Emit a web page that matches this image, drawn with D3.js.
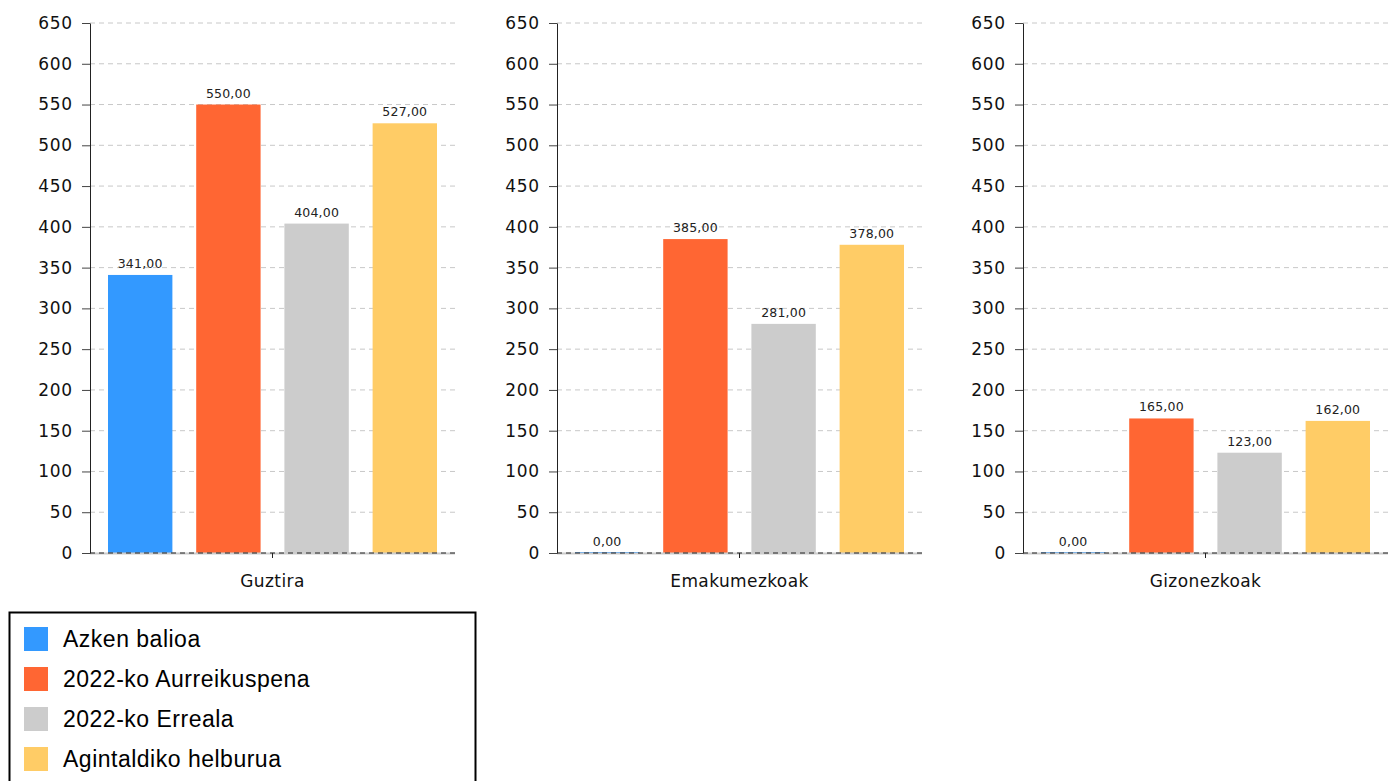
<!DOCTYPE html>
<html>
<head>
<meta charset="utf-8">
<script src="https://cdn.jsdelivr.net/npm/d3@7"></script>
<style>
  body { margin: 0; background: #fff; }
  svg { display: block; }
</style>
</head>
<body>
<div id="chart"></div>
<script>
var categories = ["Guztira", "Emakumezkoak", "Gizonezkoak"];
var series = ["Azken balioa", "2022-ko Aurreikuspena", "2022-ko Erreala", "Agintaldiko helburua"];
var colors = ["#3399ff", "#ff6633", "#cccccc", "#ffcc66"];
var values = [
  [341, 550, 404, 527],   // Guztira
  [0, 385, 281, 378],     // Emakumezkoak
  [0, 165, 123, 162]      // Gizonezkoak
];
var yTicks = [0, 50, 100, 150, 200, 250, 300, 350, 400, 450, 500, 550, 600, 650];

var W = 1390, H = 781;
var panelLeft = [90, 557, 1023], panelWidth = 365;
var plotTop = 23, plotBottom = 553;

var svg = d3.select("#chart").append("svg")
  .attr("width", W)
  .attr("height", H);

var y = d3.scaleLinear().domain([0, 650]).range([plotBottom, plotTop]);
var fmt = function(v) { return v.toFixed(2).replace(".", ","); };

categories.forEach(function(cat, ci) {
  var g = svg.append("g").attr("transform", "translate(" + panelLeft[ci] + ",0)");

  var x = d3.scaleBand().domain(series)
    .range([18, panelWidth - 18])
    .paddingInner(0.27).paddingOuter(0);

  // dashed grid
  g.selectAll(".grid").data(yTicks.filter(function(t) { return t > 0; }))
    .enter().append("line")
    .attr("x1", 0).attr("x2", panelWidth)
    .attr("y1", function(d) { return y(d); }).attr("y2", function(d) { return y(d); })
    .attr("stroke", "#c8c8c8")
    .attr("stroke-dasharray", "5,4");

  // bars
  g.selectAll(".bar").data(values[ci])
    .enter().append("rect")
    .attr("x", function(d, i) { return x(series[i]); })
    .attr("width", x.bandwidth())
    .attr("y", function(d) { return d === 0 ? y(0) - 1 : y(d); })
    .attr("height", function(d) { return d === 0 ? 1 : y(0) - y(d); })
    .attr("fill", function(d, i) { return colors[i]; });

  // value labels
  g.selectAll(".val").data(values[ci])
    .enter().append("text")
    .attr("x", function(d, i) { return x(series[i]) + x.bandwidth() / 2; })
    .attr("y", function(d) { return y(d) - 7; })
    .attr("text-anchor", "middle")
    .attr("font-family", "DejaVu Sans")
    .attr("font-size", 12.5)
    .attr("letter-spacing", 0.2)
    .attr("fill", "#222")
    .text(function(d) { return fmt(d); });

  // zero baseline
  g.append("line")
    .attr("x1", 0).attr("x2", panelWidth)
    .attr("y1", y(0) + 0.5).attr("y2", y(0) + 0.5)
    .attr("stroke", "#cccccc").attr("stroke-width", 2);
  g.append("line")
    .attr("x1", 0).attr("x2", panelWidth)
    .attr("y1", y(0)).attr("y2", y(0))
    .attr("stroke", "#222")
    .attr("stroke-dasharray", "5,4");

  // y axis
  var yAxis = g.append("g")
    .call(d3.axisLeft(y).tickValues(yTicks).tickSize(8).tickPadding(9).tickSizeOuter(0));
  yAxis.select(".domain").attr("stroke", "#222");
  yAxis.selectAll(".tick line").attr("stroke", "#444");
  yAxis.selectAll("text")
    .attr("font-family", "DejaVu Sans")
    .attr("font-size", 17)
    .attr("letter-spacing", 0.8)
    .attr("fill", "#111");

  // category tick + label
  g.append("line")
    .attr("x1", panelWidth / 2).attr("x2", panelWidth / 2)
    .attr("y1", y(0)).attr("y2", y(0) + 5)
    .attr("stroke", "#222");
  g.append("text")
    .attr("x", panelWidth / 2)
    .attr("y", 587)
    .attr("text-anchor", "middle")
    .attr("font-family", "DejaVu Sans")
    .attr("font-size", 17)
    .attr("letter-spacing", 0.4)
    .attr("fill", "#111")
    .text(cat);
});

// legend
var legend = svg.append("g");
legend.append("rect")
  .attr("x", 9.5).attr("y", 612.5)
  .attr("width", 466).attr("height", 180)
  .attr("fill", "#fff").attr("stroke", "#000").attr("stroke-width", 2);

var rows = legend.selectAll(".leg").data(series)
  .enter().append("g")
  .attr("transform", function(d, i) { return "translate(24," + (627 + i * 40) + ")"; });
rows.append("rect")
  .attr("width", 24).attr("height", 24)
  .attr("fill", function(d, i) { return colors[i]; });
rows.append("text")
  .attr("x", 39).attr("y", 20)
  .attr("font-family", "Liberation Sans, Arial, sans-serif")
  .attr("font-size", 23)
  .attr("letter-spacing", 0.5)
  .attr("fill", "#000")
  .text(function(d) { return d; });
</script>
</body>
</html>
